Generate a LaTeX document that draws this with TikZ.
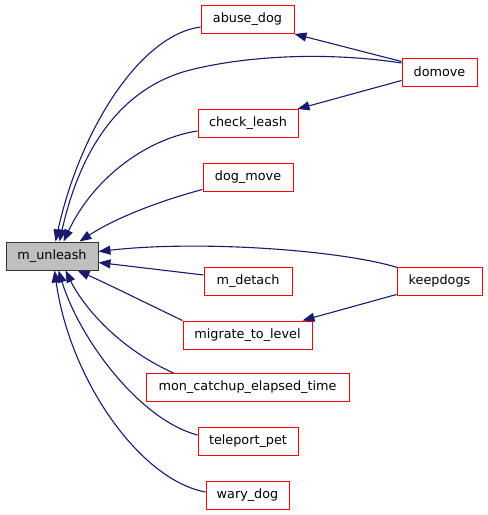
\documentclass[tikz,border=0pt]{standalone}
\usepackage{fontspec}
\newfontfamily\dvs{DejaVu Sans}
\usetikzlibrary{arrows.meta}
\definecolor{edgecol}{HTML}{191970}
\definecolor{boxred}{HTML}{FF0000}
\definecolor{grayfill}{HTML}{BFBFBF}
\begin{document}
\begin{tikzpicture}[x=1pt,y=-1pt,
  fn/.style={draw=boxred, line width=1pt, rectangle, inner sep=0pt, minimum height=28pt,
    font=\dvs\fontsize{12.8}{14}\selectfont, text=black},
  rootnode/.style={fn, draw=black!80, fill=grayfill},
  edge/.style={draw=edgecol, line width=1.1pt, -{Triangle[length=12pt,width=9pt]}, color=edgecol}]
\useasboundingbox (0,0) rectangle (488,515);
\node[rootnode, minimum width=92pt] (mu) at (52,256) {m\_unleash};
\node[fn, minimum width=93pt] (abuse) at (247.5,19.5) {abuse\_dog};
\node[fn, minimum width=75pt] (domove) at (439.5,72) {domove};
\node[fn, minimum width=100pt] (check) at (248,123.5) {check\_leash};
\node[fn, minimum width=90pt] (dogmove) at (248,177) {dog\_move};
\node[fn, minimum width=85pt] (keep) at (439.5,281) {keepdogs};
\node[fn, minimum width=88pt] (detach) at (248,281) {m\_detach};
\node[fn, minimum width=129pt] (migrate) at (247.5,335) {migrate\_to\_level};
\node[fn, minimum width=203pt] (mon) at (247.5,387.5) {mon\_catchup\_elapsed\_time};
\node[fn, minimum width=100pt] (tele) at (248,441) {teleport\_pet};
\node[fn, minimum width=83pt] (wary) at (247.5,495) {wary\_dog};
% edges into m_unleash top
\draw[edge] ([yshift=-7.5pt]abuse.west) .. controls (140,35) and (80,130) .. ([xshift=50pt]mu.north west);
\draw[edge] ([yshift=9pt]domove.west) .. controls (330,52) and (250,55) .. (190,70)
  .. controls (120,88) and (80,150) .. ([xshift=54pt]mu.north west);
\draw[edge] ([yshift=-7.5pt]check.west) .. controls (150,138) and (95,175) .. ([xshift=58pt]mu.north west);
\draw[edge] ([yshift=2pt]dogmove.south west) .. controls (170,198) and (120,215) .. ([xshift=74pt]mu.north west);
% edges into m_unleash right
\draw[edge] ([xshift=1pt,yshift=-1pt]keep.north west) .. controls (340,250) and (200,240) .. ([yshift=-10pt]mu.north east);
\draw[edge] ([yshift=6pt]detach.west) -- ([yshift=8pt]mu.south east);
% edges into m_unleash bottom
\draw[edge] (migrate.north west) .. controls (150,305) and (110,285) .. ([xshift=72pt]mu.south west);
\draw[edge] ([xshift=-74pt]mon.north) .. controls (122,350) and (85,310) .. ([xshift=60pt]mu.south west);
\draw[edge] ([yshift=6pt]tele.west) .. controls (140,420) and (80,340) .. ([xshift=53pt]mu.south west);
\draw[edge] ([yshift=3pt]wary.west) .. controls (140,480) and (70,380) .. ([xshift=49pt]mu.south west);
% other edges
\draw[edge] ([yshift=-4pt]domove.north west) -- (abuse.south east);
\draw[edge] ([yshift=6pt]domove.south west) -- ([xshift=-1pt]check.north east);
\draw[edge] ([yshift=1pt]keep.south west) -- ([xshift=-10pt]migrate.north east);
\end{tikzpicture}
\end{document}
